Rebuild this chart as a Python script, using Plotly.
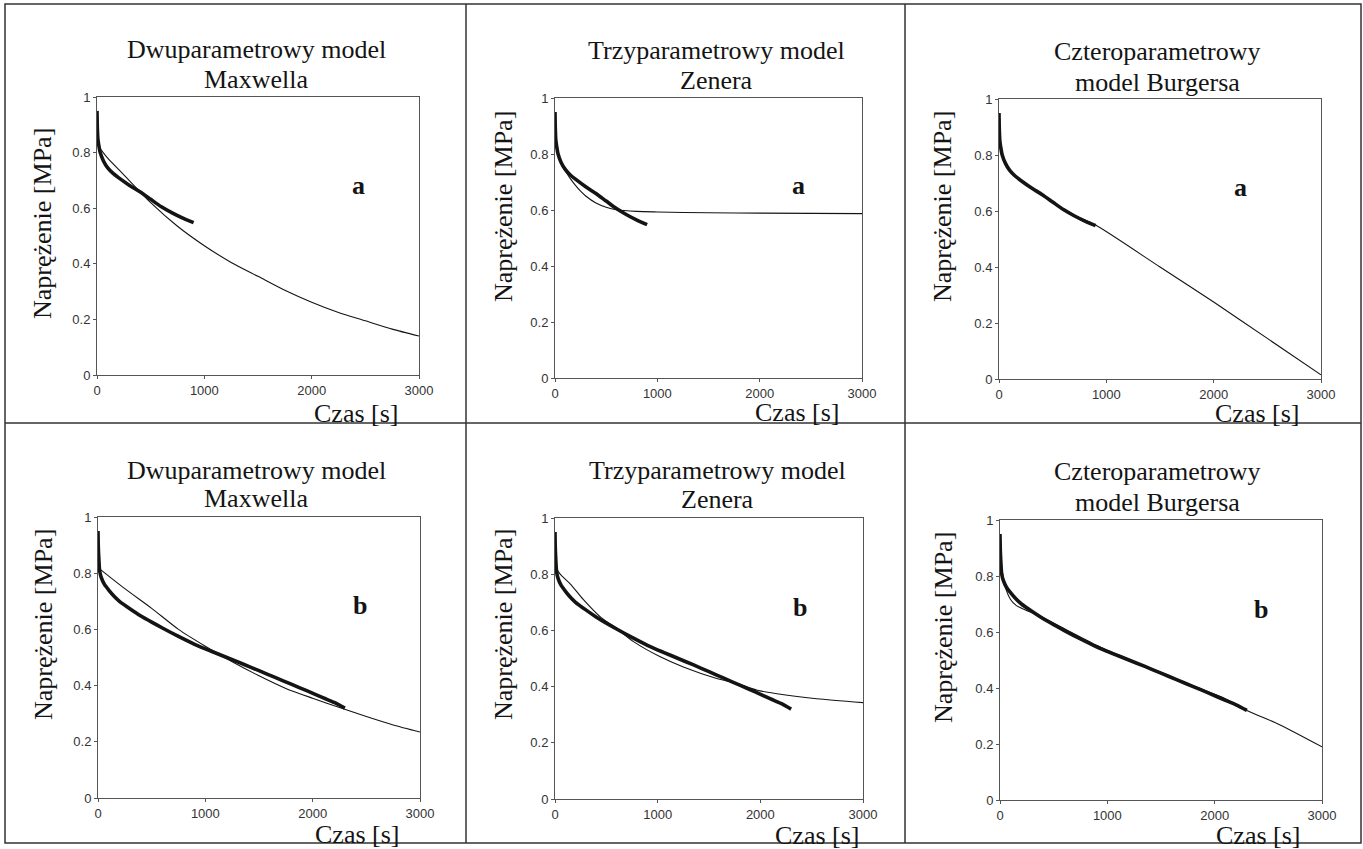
import plotly.graph_objects as go

W, H = 1363, 849

# ---------------- data ----------------
# experiment a (top row) – measured relaxation curve
t_data_a = [0, 3, 8, 15, 30, 60, 100, 150, 200, 300, 400, 500, 600, 700, 800, 900]
s_data_a = [0.95, 0.89, 0.85, 0.83, 0.80, 0.77, 0.745, 0.725, 0.71, 0.683, 0.659, 0.632, 0.605, 0.583, 0.564, 0.548]

# experiment b (bottom row) – measured relaxation curve
t_data_b = [0, 3, 8, 15, 30, 60, 100, 150, 200, 300, 400, 500, 600, 750, 900, 1050, 1200,
            1350, 1500, 1650, 1800, 1950, 2100, 2200, 2300]
s_data_b = [0.95, 0.89, 0.85, 0.81, 0.785, 0.76, 0.74, 0.718, 0.70, 0.673, 0.648, 0.626, 0.605,
            0.575, 0.547, 0.523, 0.50, 0.477, 0.453, 0.429, 0.405, 0.381, 0.356, 0.34, 0.32]

# model fits – experiment a
t_maxwell_a = [0, 100, 250, 500, 750, 1000, 1250, 1500, 1750, 2000, 2250, 2500, 2750, 3000]
s_maxwell_a = [0.83, 0.78, 0.72, 0.62, 0.535, 0.465, 0.405, 0.355, 0.305, 0.262, 0.225, 0.195, 0.165, 0.14]

t_zener_a = [0, 25, 50, 100, 150, 200, 250, 300, 400, 500, 600, 800, 1000, 1500, 2000, 3000]
s_zener_a = [0.85, 0.81, 0.78, 0.74, 0.712, 0.688, 0.667, 0.65, 0.625, 0.61, 0.601, 0.595, 0.593,
             0.590, 0.589, 0.587]

t_burgers_a = [0, 15, 50, 100, 200, 300, 500, 700, 900, 1500, 2000, 2500, 3000]
s_burgers_a = [0.94, 0.83, 0.78, 0.745, 0.71, 0.68, 0.632, 0.585, 0.55, 0.40, 0.275, 0.145, 0.015]

# model fits – experiment b
t_maxwell_b = [0, 250, 500, 750, 1000, 1250, 1500, 1750, 2000, 2250, 2500, 2750, 3000]
s_maxwell_b = [0.82, 0.745, 0.675, 0.60, 0.54, 0.485, 0.435, 0.39, 0.355, 0.322, 0.29, 0.26, 0.235]

t_zener_b = [0, 50, 150, 275, 450, 600, 765, 1025, 1250, 1575, 1775, 1970, 2230, 2550, 3000]
s_zener_b = [0.83, 0.80, 0.765, 0.71, 0.645, 0.607, 0.56, 0.506, 0.47, 0.429, 0.411, 0.387, 0.371,
             0.357, 0.343]

t_burgers_b = [0, 10, 50, 100, 150, 200, 400, 600, 900, 1200, 1500, 1800, 2100, 2300, 2600, 3000]
s_burgers_b = [0.93, 0.85, 0.76, 0.715, 0.695, 0.685, 0.652, 0.612, 0.553, 0.503, 0.455, 0.408,
               0.362, 0.32, 0.27, 0.19]

x_tick_vals = [0, 1000, 2000, 3000]
x_tick_text = ["0", "1000", "2000", "3000"]
y_tick_vals = [0, 0.2, 0.4, 0.6, 0.8, 1]
y_tick_text = ["0", "0.2", "0.4", "0.6", "0.8", "1"]

titles_line1 = ["Dwuparametrowy model", "Trzyparametrowy model", "Czteroparametrowy"] * 2
titles_line2 = ["Maxwella", "Zenera", "model Burgersa"] * 2
letters = ["a", "a", "a", "b", "b", "b"]
x_title = "Czas [s]"
y_title = "Naprężenie [MPa]"

data_t = [t_data_a] * 3 + [t_data_b] * 3
data_s = [s_data_a] * 3 + [s_data_b] * 3
model_t = [t_maxwell_a, t_zener_a, t_burgers_a, t_maxwell_b, t_zener_b, t_burgers_b]
model_s = [s_maxwell_a, s_zener_a, s_burgers_a, s_maxwell_b, s_zener_b, s_burgers_b]

# ---------------- layout geometry (pixels) ----------------
plot_boxes = [  # x0, x1, ytop, ybottom
    (97, 419, 97, 375),
    (555, 862, 98, 378),
    (999, 1321, 99, 379),
    (98, 420, 517, 798),
    (555, 863, 518, 799),
    (1000, 1322, 520, 800),
]
title_pos = [  # x, y line1, y line2
    (256, 50, 79), (716, 51, 80), (1157, 52, 82),
    (256, 470, 499), (717, 471, 500), (1157, 472, 502),
]
xtitle_pos = [(356, 413), (797, 412), (1257, 413), (357, 834), (817, 835), (1258, 835)]
ytitle_pos = [(43, 223), (504, 207), (943, 207), (43, 624), (503, 625), (943, 628)]
letter_pos = [(358, 185), (798, 185), (1240, 187), (360, 605), (800, 607), (1261, 609)]


def px(x):
    return x / W


def py(y):
    return 1 - y / H


SERIF = "Liberation Serif, Times New Roman, serif"
SANS = "Liberation Sans, Arial, sans-serif"
INK = "#141414"

fig = go.Figure()
annotations = []
layout_axes = {}

for i in range(6):
    n = "" if i == 0 else str(i + 1)
    x0, x1, yt, yb = plot_boxes[i]
    common = dict(
        showline=True, linecolor="#555", linewidth=1, mirror=True,
        ticks="outside", ticklen=3, tickcolor="#555", tickwidth=1,
        showgrid=False, zeroline=False, automargin=False,
        tickfont=dict(family=SANS, size=13, color="#333"),
    )
    layout_axes["xaxis" + n] = dict(
        domain=[px(x0), px(x1)], range=[0, 3000], anchor="y" + n,
        tickvals=x_tick_vals, ticktext=x_tick_text, **common,
    )
    layout_axes["yaxis" + n] = dict(
        domain=[py(yb), py(yt)], range=[0, 1], anchor="x" + n,
        tickvals=y_tick_vals, ticktext=y_tick_text, **common,
    )
    fig.add_trace(go.Scatter(x=model_t[i], y=model_s[i], mode="lines",
                             line=dict(color=INK, width=1.1, shape="spline", smoothing=0.7),
                             xaxis="x" + n, yaxis="y" + n, showlegend=False))
    fig.add_trace(go.Scatter(x=data_t[i], y=data_s[i], mode="lines",
                             line=dict(color=INK, width=3.6, shape="spline", smoothing=0.7),
                             xaxis="x" + n, yaxis="y" + n, showlegend=False))

    tx, ty1, ty2 = title_pos[i]
    annotations.append(dict(x=px(tx), y=py(ty1), text=titles_line1[i]))
    annotations.append(dict(x=px(tx), y=py(ty2), text=titles_line2[i]))
    cx, cy = xtitle_pos[i]
    annotations.append(dict(x=px(cx), y=py(cy), text=x_title))
    yx, yy = ytitle_pos[i]
    annotations.append(dict(x=px(yx), y=py(yy), text=y_title, textangle=-90))
    lx, ly = letter_pos[i]
    annotations.append(dict(x=px(lx), y=py(ly), text="<b>" + letters[i] + "</b>"))

for a in annotations:
    a.update(xref="paper", yref="paper", showarrow=False, xanchor="center", yanchor="middle",
             font=dict(family=SERIF, size=26, color=INK))

# cell frame lines
frame_color = "#333"
shapes = [
    dict(type="rect", x0=px(5), x1=px(1361), y0=py(843), y1=py(4)),
    dict(type="line", x0=px(466), x1=px(466), y0=py(843), y1=py(4)),
    dict(type="line", x0=px(905), x1=px(905), y0=py(843), y1=py(4)),
    dict(type="line", x0=px(5), x1=px(1361), y0=py(423), y1=py(423)),
]
for s in shapes:
    s.update(xref="paper", yref="paper", line=dict(color=frame_color, width=1.5), layer="above")

fig.update_layout(
    template="none",
    width=W, height=H, margin=dict(l=0, r=0, t=0, b=0, pad=0, autoexpand=False),
    paper_bgcolor="white", plot_bgcolor="white",
    annotations=annotations, shapes=shapes, **layout_axes,
)

fig.write_html(
    "out.html",
    config={"displayModeBar": False},
    post_script="document.body.style.margin='0';document.body.style.overflow='hidden';",
)
